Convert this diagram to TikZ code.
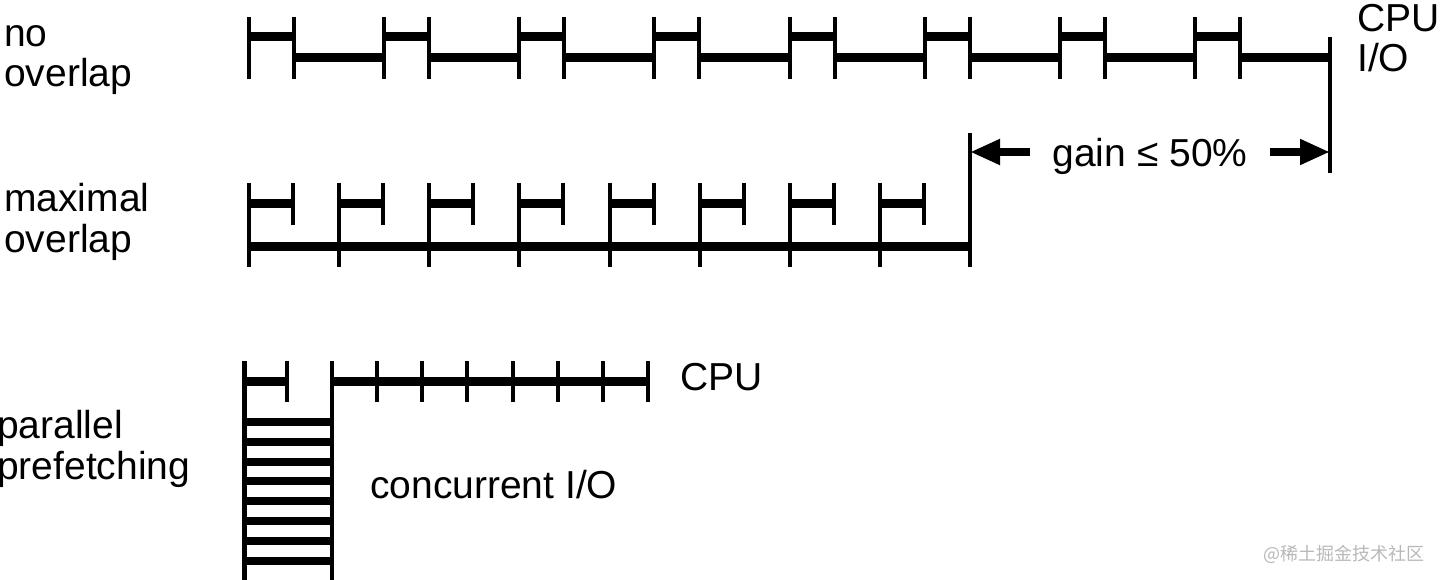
\documentclass[tikz,border=0pt]{standalone}
\usepackage{fontspec}
\setmainfont{Liberation Sans}
\newfontfamily\cjkfont{Noto Sans CJK SC}
\usetikzlibrary{arrows.meta,positioning}

\begin{document}
\begin{tikzpicture}[x=1pt,y=-1pt,
    every node/.style={inner sep=0pt,font=\fontsize{39}{40.5}\selectfont,align=left},
    tickln/.style={line width=4pt},
    cpubar/.style={line width=9pt},
    iobar/.style={line width=9pt},
    stripe/.style={line width=8pt},
    gainarr/.style={line width=8pt,-{Triangle[length=30pt,width=24pt]}}]
  \useasboundingbox (0,0) rectangle (1440,580);
  % row labels (base = last line)
  \node[anchor=base west] (nolbl) at (4,87) {no\\overlap};
  \node[anchor=base west] (maxlbl) at (4,252) {maximal\\overlap};
  \node[anchor=base west] (parlbl) at (-3,479) {parallel\\prefetching};
  % no overlap
  \foreach \k [evaluate=\k as \xa using 249+135.125*\k] in {0,...,7} {
    \draw[cpubar] (\xa,37) -- ++(45,0);
    \draw[iobar] (\xa+45,58) -- ++(90.125,0);
    \draw[tickln] (\xa,17) -- (\xa,79);
    \draw[tickln] (\xa+45,17) -- (\xa+45,79);
  }
  \draw[tickln] (1330,37) -- (1330,173);
  \node[anchor=base west] (iolbl) at (1357,72) {CPU\\I/O};
  % maximal overlap
  \foreach \k [evaluate=\k as \xb using 249+90.125*\k] in {0,...,7} {
    \draw[cpubar] (\xb,204) -- ++(44,0);
    \draw[tickln] (\xb,183) -- (\xb,267);
    \draw[tickln] (\xb+44,183) -- (\xb+44,225);
  }
  \draw[iobar] (249,246) -- (970,246);
  \draw[tickln] (970,133) -- (970,267);
  % gain
  \coordinate (gl) at (970,152);
  \coordinate (gr) at (1330,152);
  \node[anchor=base,inner xsep=22pt] (gain) at (1150,167) {gain ≤ 50\%};
  \draw[gainarr] (gain.west |- gl) -- (gl);
  \draw[gainarr] (gain.east |- gr) -- (gr);
  % parallel prefetching
  \draw[line width=5pt] (244,361) -- (244,580);
  \draw[tickln] (332,361) -- (332,580);
  \draw[cpubar] (244,381) -- (287,381);
  \draw[tickln] (287,361) -- (287,402);
  \draw[cpubar] (332,381) -- (648,381);
  \foreach \j in {1,...,7}
    \draw[tickln] (332+45.14*\j,361) -- (332+45.14*\j,402);
  \foreach \j in {0,...,7}
    \draw[stripe] (244,422+19.8*\j) -- (332,422+19.8*\j);
  \node[anchor=base west] (cpulbl) at (680,390) {CPU};
  \node[anchor=base west] (conclbl) at (370,498) {concurrent I/O};
  % watermark
  \node[anchor=base east,font=\cjkfont\fontsize{18}{18}\selectfont,text=black!28] (wmark) at (1425,560) {@稀土掘金技术社区};
\end{tikzpicture}
\end{document}
